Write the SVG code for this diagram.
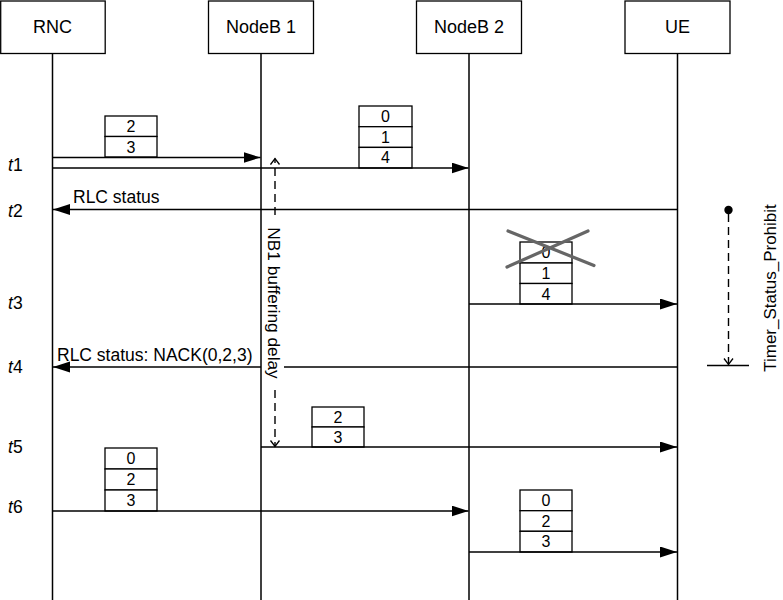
<svg xmlns="http://www.w3.org/2000/svg" width="783" height="600" viewBox="0 0 783 600">
<defs>
<style>
.box{fill:#fff;stroke:#000;stroke-width:1.3}
.life{stroke:#000;stroke-width:1.5;fill:none}
.msg{stroke:#000;stroke-width:1.5;fill:none}
.cell{fill:#fff;stroke:#000;stroke-width:1.3}
.dash{stroke:#000;stroke-width:1.4;fill:none;stroke-dasharray:8 5}
.lbl{font-family:"Liberation Sans",Arial,sans-serif;font-size:18px;fill:#000}
.num{font-family:"Liberation Sans",Arial,sans-serif;font-size:16px;fill:#000;text-anchor:middle}
.hdr{font-family:"Liberation Sans",Arial,sans-serif;font-size:18px;fill:#000;text-anchor:middle}
.t{font-family:"Liberation Sans",Arial,sans-serif;font-size:17.5px;fill:#000}
</style>
<marker id="ah" markerUnits="userSpaceOnUse" markerWidth="18" markerHeight="12" refX="17" refY="5.5" orient="auto">
<path d="M0,0 L17,5.5 L0,11 z" fill="#000"/>
</marker>
<marker id="oa" markerUnits="userSpaceOnUse" markerWidth="12" markerHeight="12" refX="6.5" refY="5" orient="auto">
<path d="M0.5,0.5 L6.5,5 L0.5,9.5" fill="none" stroke="#000" stroke-width="1.3"/>
</marker>
</defs>
<rect width="783" height="600" fill="#fff"/>

<g id="node-rnc">
<rect class="box" x="0.7" y="1" width="104.5" height="52.5"/>
<text class="hdr" x="52.5" y="33">RNC</text>
<line class="life" x1="52.5" y1="53.5" x2="52.5" y2="600"/>
</g>
<g id="node-nodeb1">
<rect class="box" x="208.5" y="1" width="105" height="52.5"/>
<text class="hdr" x="261" y="33">NodeB 1</text>
<line class="life" x1="261" y1="53.5" x2="261" y2="600"/>
</g>
<g id="node-nodeb2">
<rect class="box" x="416.5" y="1" width="105" height="52.5"/>
<text class="hdr" x="469" y="33">NodeB 2</text>
<line class="life" x1="469" y1="53.5" x2="469" y2="600"/>
</g>
<g id="node-ue">
<rect class="box" x="625" y="1" width="105" height="52.5"/>
<text class="hdr" x="677.5" y="33">UE</text>
<line class="life" x1="677.5" y1="53.5" x2="677.5" y2="600"/>
</g>

<g id="time-labels" class="t">
<text x="8" y="171"><tspan font-style="italic">t</tspan>1</text>
<text x="8" y="217"><tspan font-style="italic">t</tspan>2</text>
<text x="8" y="309"><tspan font-style="italic">t</tspan>3</text>
<text x="8" y="373"><tspan font-style="italic">t</tspan>4</text>
<text x="8" y="453"><tspan font-style="italic">t</tspan>5</text>
<text x="8" y="513"><tspan font-style="italic">t</tspan>6</text>
</g>

<g id="pdu-boxes">
<g id="box-t1-rnc">
<rect class="cell" x="105" y="116" width="52" height="20.5"/>
<rect class="cell" x="105" y="136.5" width="52" height="20.5"/>
<text class="num" x="131" y="132">2</text>
<text class="num" x="131" y="152.5">3</text>
</g>
<g id="box-t1-nb2">
<rect class="cell" x="359" y="106" width="53" height="20.7"/>
<rect class="cell" x="359" y="126.7" width="53" height="20.7"/>
<rect class="cell" x="359" y="147.4" width="53" height="20.6"/>
<text class="num" x="385.5" y="122">0</text>
<text class="num" x="385.5" y="142.7">1</text>
<text class="num" x="385.5" y="163.4">4</text>
</g>
<g id="box-t3">
<rect class="cell" x="520" y="242" width="52" height="21"/>
<rect class="cell" x="520" y="263" width="52" height="20.5"/>
<rect class="cell" x="520" y="283.5" width="52" height="20.5"/>
<text class="num" x="546" y="258.2">0</text>
<text class="num" x="546" y="279">1</text>
<text class="num" x="546" y="299.5">4</text>
<line x1="508" y1="231" x2="594" y2="265.5" stroke="#666" stroke-width="3.2" stroke-linecap="round"/>
<line x1="507" y1="267" x2="588" y2="231" stroke="#666" stroke-width="3.2" stroke-linecap="round"/>
</g>
<g id="box-t5">
<rect class="cell" x="312" y="407" width="52" height="20"/>
<rect class="cell" x="312" y="427" width="52" height="20"/>
<text class="num" x="338" y="422.8">2</text>
<text class="num" x="338" y="442.8">3</text>
</g>
<g id="box-t6-rnc">
<rect class="cell" x="105" y="448" width="52" height="21"/>
<rect class="cell" x="105" y="469" width="52" height="21"/>
<rect class="cell" x="105" y="490" width="52" height="21"/>
<text class="num" x="131" y="464.3">0</text>
<text class="num" x="131" y="485.3">2</text>
<text class="num" x="131" y="506.3">3</text>
</g>
<g id="box-t6-nb2">
<rect class="cell" x="520" y="490" width="52" height="20.7"/>
<rect class="cell" x="520" y="510.7" width="52" height="20.6"/>
<rect class="cell" x="520" y="531.3" width="52" height="20.7"/>
<text class="num" x="546" y="506">0</text>
<text class="num" x="546" y="526.7">2</text>
<text class="num" x="546" y="547.4">3</text>
</g>
</g>

<g id="connectors">
<line class="msg" x1="52.5" y1="157.5" x2="260.5" y2="157.5" marker-end="url(#ah)"/>
<line class="msg" x1="52.5" y1="168" x2="468.5" y2="168" marker-end="url(#ah)"/>
<line class="msg" x1="677.5" y1="209.5" x2="53" y2="209.5" marker-end="url(#ah)"/>
<line class="msg" x1="469" y1="304" x2="677" y2="304" marker-end="url(#ah)"/>
<line class="msg" x1="677.5" y1="367" x2="284" y2="367"/>
<line class="msg" x1="261" y1="367" x2="53" y2="367" marker-end="url(#ah)"/>
<line class="msg" x1="261" y1="447" x2="677" y2="447" marker-end="url(#ah)"/>
<line class="msg" x1="52.5" y1="511" x2="468.5" y2="511" marker-end="url(#ah)"/>
<line class="msg" x1="469" y1="552" x2="677" y2="552" marker-end="url(#ah)"/>
<line class="dash" x1="275" y1="215" x2="275" y2="158.5" marker-end="url(#oa)"/>
<line class="dash" x1="275" y1="390" x2="275" y2="446.5" marker-end="url(#oa)"/>
<circle cx="728.5" cy="210" r="4.2" fill="#000"/>
<line class="dash" x1="728.5" y1="214" x2="728.5" y2="364.5" marker-end="url(#oa)"/>
<line class="msg" x1="707" y1="365.5" x2="749" y2="365.5"/>
</g>

<g id="labels" class="lbl">
<text x="73" y="203" font-size="17.5">RLC status</text>
<text x="57" y="361" font-size="17.5">RLC status: NACK(0,2,3)</text>
<text x="268" y="303" font-size="17.3" text-anchor="middle" transform="rotate(90 268 303)">NB1 buffering delay</text>
<text x="776" y="288" font-size="17" text-anchor="middle" transform="rotate(-90 776 288)">Timer_Status_Prohibit</text>
</g>
</svg>
